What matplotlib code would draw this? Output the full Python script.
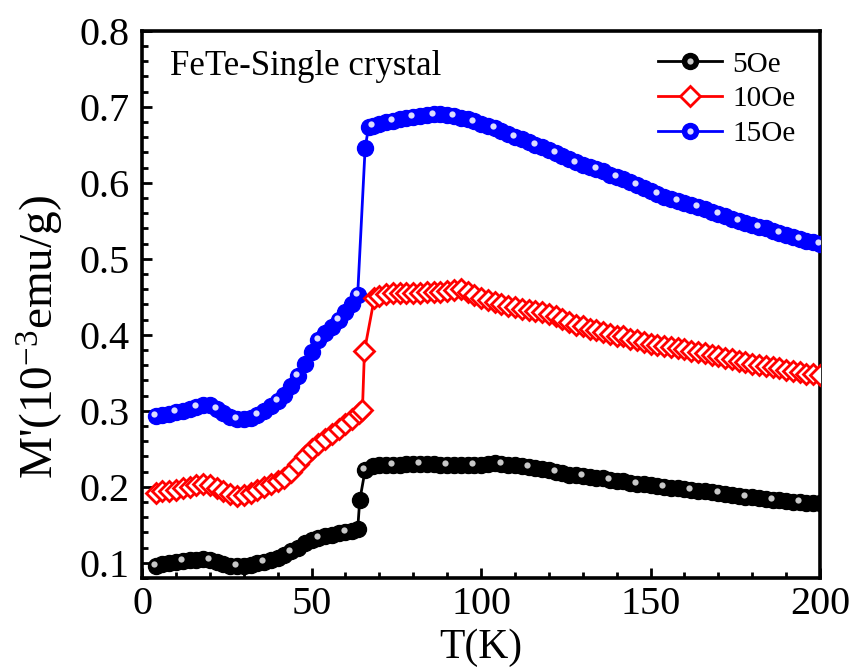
import matplotlib
matplotlib.use("Agg")
import matplotlib.pyplot as plt
import matplotlib.transforms as mtransforms
from matplotlib.legend_handler import HandlerTuple
from matplotlib.ticker import MultipleLocator

plt.rcParams['font.family'] = ['Liberation Serif', 'DejaVu Serif']
plt.rcParams['mathtext.fontset'] = 'custom'
plt.rcParams['mathtext.rm'] = 'Liberation Serif'
plt.rcParams['mathtext.default'] = 'regular'

# ---- data ----
T_5 = [4, 6, 8, 10, 12, 14, 16, 18, 20, 22, 24, 26, 28, 30, 32, 34, 36, 38, 40, 42,
       44, 46, 48, 50, 52, 54, 56, 58, 60, 62, 63.6, 64.2, 65.8, 68, 70, 72, 74, 76, 78, 80,
       82, 84, 86, 88, 90, 92, 94, 96, 98, 100, 102, 104, 106, 108, 110, 112, 114, 116,
       118, 120, 122, 124, 126, 128, 130, 132, 134, 136, 138, 140, 142, 144, 146, 148,
       150, 152, 154, 156, 158, 160, 162, 164, 166, 168, 170, 172, 174, 176, 178, 180,
       182, 184, 186, 188, 190, 192, 194, 196, 198, 200]
M_5 = [0.096, 0.098, 0.100, 0.101, 0.102, 0.103, 0.104, 0.105, 0.104, 0.101, 0.098,
       0.096, 0.096, 0.096, 0.097, 0.099, 0.101, 0.103, 0.106, 0.110, 0.115, 0.120,
       0.126, 0.130, 0.133, 0.135, 0.137, 0.139, 0.141, 0.142, 0.144, 0.182, 0.222,
       0.227, 0.228, 0.229, 0.229, 0.229, 0.230, 0.230, 0.230, 0.230, 0.230, 0.229,
       0.229, 0.229, 0.229, 0.229, 0.229, 0.229, 0.230, 0.231, 0.230, 0.229, 0.228,
       0.227, 0.226, 0.225, 0.224, 0.222, 0.220, 0.218, 0.216, 0.215, 0.214, 0.213,
       0.212, 0.211, 0.209, 0.208, 0.207, 0.205, 0.204, 0.203, 0.202, 0.201, 0.200,
       0.199, 0.198, 0.197, 0.196, 0.195, 0.194, 0.193, 0.192, 0.190, 0.189, 0.188,
       0.187, 0.186, 0.185, 0.184, 0.183, 0.182, 0.181, 0.180, 0.180, 0.179, 0.179, 0.178]

T_10 = [4, 6, 8, 10, 12, 14, 16, 18, 20, 22, 24, 26, 28, 30, 32, 34, 36, 38, 40, 42,
        44, 46, 48, 50, 52, 54, 56, 58, 60, 62, 64, 65, 65.6, 68.5, 70, 72, 74, 76, 78,
        80, 82, 84, 86, 88, 90, 92, 94, 96, 98, 100, 102, 104, 106, 108, 110, 112, 114,
        116, 118, 120, 122, 124, 126, 128, 130, 132, 134, 136, 138, 140, 142, 144, 146,
        148, 150, 152, 154, 156, 158, 160, 162, 164, 166, 168, 170, 172, 174, 176, 178,
        180, 182, 184, 186, 188, 190, 192, 194, 196, 198, 200]
M_10 = [0.192, 0.194, 0.195, 0.196, 0.198, 0.200, 0.202, 0.203, 0.202, 0.198, 0.194,
        0.190, 0.188, 0.189, 0.192, 0.196, 0.200, 0.203, 0.207, 0.212, 0.220, 0.230,
        0.241, 0.250, 0.256, 0.263, 0.270, 0.276, 0.282, 0.289, 0.297, 0.301, 0.379,
        0.448, 0.451, 0.454, 0.455, 0.455, 0.455, 0.455, 0.455, 0.456, 0.456, 0.457,
        0.458, 0.459, 0.460, 0.457, 0.452, 0.448, 0.446, 0.443, 0.440, 0.438, 0.436,
        0.434, 0.432, 0.431, 0.430, 0.428, 0.425, 0.421, 0.417, 0.413, 0.411, 0.408,
        0.406, 0.404, 0.401, 0.399, 0.398, 0.395, 0.393, 0.390, 0.388, 0.387, 0.385,
        0.384, 0.383, 0.381, 0.379, 0.378, 0.376, 0.374, 0.372, 0.370, 0.368, 0.366,
        0.364, 0.362, 0.360, 0.359, 0.357, 0.356, 0.354, 0.352, 0.351, 0.349, 0.348, 0.347]

T_15 = [4, 6, 8, 10, 12, 14, 16, 18, 20, 22, 24, 26, 28, 30, 32, 34, 36, 38, 40, 42,
        44, 46, 48, 50, 52, 54, 56, 58, 60, 62, 63.6, 65.8, 66.8, 68, 70, 72, 74, 76, 78,
        80, 82, 84, 86, 88, 90, 92, 94, 96, 98, 100, 102, 104, 106, 108, 110, 112, 114,
        116, 118, 120, 122, 124, 126, 128, 130, 132, 134, 136, 138, 140, 142, 144, 146,
        148, 150, 152, 154, 156, 158, 160, 162, 164, 166, 168, 170, 172, 174, 176, 178,
        180, 182, 184, 186, 188, 190, 192, 194, 196, 198, 200]
M_15 = [0.293, 0.294, 0.296, 0.298, 0.300, 0.302, 0.305, 0.307, 0.307, 0.302, 0.297,
        0.292, 0.289, 0.289, 0.291, 0.295, 0.300, 0.306, 0.313, 0.321, 0.332, 0.346,
        0.362, 0.378, 0.393, 0.403, 0.410, 0.420, 0.430, 0.440, 0.453, 0.646, 0.673,
        0.675, 0.678, 0.680, 0.682, 0.684, 0.686, 0.687, 0.688, 0.689, 0.690, 0.690,
        0.689, 0.688, 0.686, 0.684, 0.681, 0.678, 0.675, 0.672, 0.668, 0.664, 0.661,
        0.658, 0.654, 0.650, 0.647, 0.643, 0.639, 0.635, 0.631, 0.627, 0.624, 0.621,
        0.618, 0.615, 0.611, 0.608, 0.605, 0.601, 0.597, 0.593, 0.589, 0.585, 0.582,
        0.579, 0.576, 0.574, 0.571, 0.568, 0.565, 0.562, 0.559, 0.556, 0.553, 0.550,
        0.547, 0.545, 0.542, 0.540, 0.537, 0.534, 0.531, 0.529, 0.526, 0.524, 0.522, 0.520]

labels = ['5Oe', '10Oe', '15Oe']
x_ticks = [0, 50, 100, 150, 200]
y_ticks = [0.1, 0.2, 0.3, 0.4, 0.5, 0.6, 0.7, 0.8]

# ---- figure ----
fig = plt.figure(figsize=(8.56, 6.72), dpi=100)
ax = fig.add_axes([0.166, 0.140, 0.792, 0.814])

hl = mtransforms.offset_copy(ax.transData, fig=fig, x=-1.8, y=1.8, units='dots')

l15, = ax.plot(T_15, M_15, '-o', color='#0000ff', lw=2.0, ms=11.5,
               mfc='#0000ff', mec='#0000ff', zorder=3)
h15, = ax.plot(T_15, M_15, 'o', ls='none', ms=4.5, mfc='#dcdcff', mec='none',
               transform=hl, markevery=3, zorder=3.1)
l10, = ax.plot(T_10, M_10, '-D', color='#ff0000', lw=2.0, ms=10.5,
               mfc='white', mec='#ff0000', mew=2.0, zorder=4)
l5, = ax.plot(T_5, M_5, '-o', color='black', lw=2.0, ms=11.5,
              mfc='black', mec='black', zorder=5)
h5, = ax.plot(T_5, M_5, 'o', ls='none', ms=4.5, mfc='#c8c8c8', mec='none',
              transform=hl, markevery=4, zorder=5.1)

ax.set_xlim(0, 200)
ax.set_ylim(0.08, 0.8)
ax.set_xticks(x_ticks)
ax.set_yticks(y_ticks)
ax.set_xticklabels([str(v) for v in x_ticks])
ax.set_yticklabels(['%.1f' % v for v in y_ticks])
ax.xaxis.set_minor_locator(MultipleLocator(10))
ax.yaxis.set_minor_locator(MultipleLocator(0.02))

ax.tick_params(which='both', direction='in', top=False, right=False,
               width=2.0, labelsize=29)
ax.tick_params(which='major', length=7)
ax.tick_params(which='minor', length=4)
ax.tick_params(axis='y', pad=9)
ax.tick_params(axis='x', pad=6)
for s in ax.spines.values():
    s.set_linewidth(2.6)

ax.set_xlabel('T(K)', fontsize=30, labelpad=4)
ax.set_ylabel("M'(10$^{-3}$emu/g)", fontsize=34)
ax.yaxis.set_label_coords(-0.112, 0.44)

ax.text(0.041, 0.92, 'FeTe-Single crystal', transform=ax.transAxes,
        fontsize=25, ha='left', va='baseline')

leg = ax.legend([(l5, h5), (l10,), (l15, h15)], labels,
                handler_map={tuple: HandlerTuple(ndivide=1, pad=0)},
                loc='upper right', bbox_to_anchor=(0.99, 0.995),
                frameon=False, fontsize=21, numpoints=1,
                handlelength=2.2, handletextpad=0.35, labelspacing=0.28,
                borderaxespad=0.2)

fig.savefig('out.png', dpi=100)
